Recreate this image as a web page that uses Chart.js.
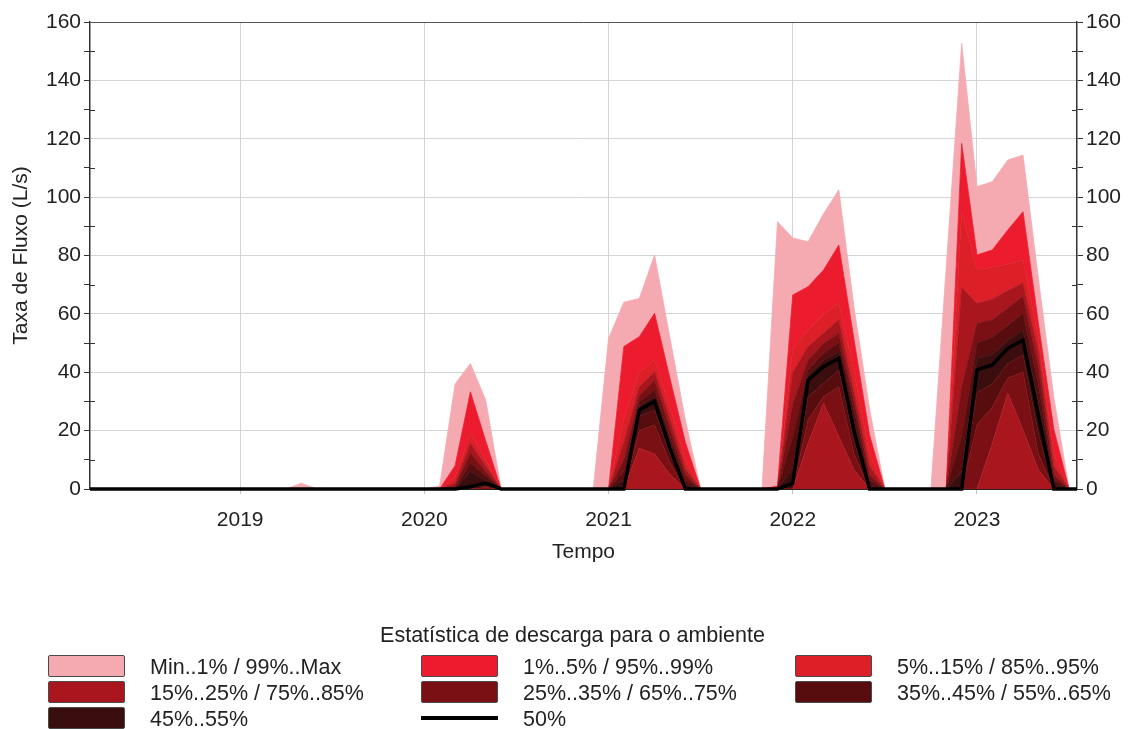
<!DOCTYPE html>
<html lang="pt">
<head>
<meta charset="utf-8">
<title>Estatística de descarga para o ambiente</title>
<script src="https://cdn.jsdelivr.net/npm/chart.js@4.4.1/dist/chart.umd.min.js"></script>
<style>
  html, body { margin:0; padding:0; background:#fff; }
  #wrap { position:relative; width:1133px; height:729px; overflow:hidden;
          font-family:'Liberation Sans', Arial, sans-serif; color:#222; }
  #chart { position:absolute; left:0; top:0; }
  .lg-title { position:absolute; left:6px; top:622px; width:1133px; text-align:center; font-size:21.5px; line-height:26px; }
  .lg-box { position:absolute; width:75px; height:20px; border:1px solid #4a4a4a; border-radius:2px; }
  .lg-line { position:absolute; width:77px; height:4px; background:#000; }
  .lg-text { position:absolute; font-size:21.5px; line-height:24px; white-space:nowrap; }
</style>
</head>
<body>
<div id="wrap">
  <canvas id="chart" width="1133" height="729"></canvas>
  <div class="lg-title">Estatística de descarga para o ambiente</div>
  <div id="legend"></div>
</div>
<script>
// ---------- DATA (decimal years, L/s) ----------
const times = [
  2018.185,
  2019.25, 2019.333, 2019.417,
  2020.0, 2020.083, 2020.167, 2020.25, 2020.333, 2020.417,
  2020.917, 2021.0, 2021.083, 2021.167, 2021.25, 2021.333, 2021.417, 2021.5,
  2021.833, 2021.917, 2022.0, 2022.083, 2022.167, 2022.25, 2022.333, 2022.417, 2022.5,
  2022.75, 2022.833, 2022.917, 2023.0, 2023.083, 2023.167, 2023.25, 2023.333, 2023.417, 2023.5,
  2023.543
];
const yearTicks = [2019, 2020, 2021, 2022, 2023];

const pMax = [0, 0, 2, 0, 0, 1, 36, 43, 30.5, 0, 0, 51.6, 64, 65.3, 80.2, 51.8, 23.6, 0,
  0, 91.6, 86, 84.7, 94.3, 102.5, 62, 27.4, 0, 0, 76, 152.7, 103.6, 105.3, 112.7, 114.4, 72.3, 31.6, 0, 0];
const p99 = [0, 0, 0, 0, 0, 0, 8, 33.3, 16.5, 0, 0, 0, 48.8, 52.2, 60.2, 38, 16, 0,
  0, 1, 66.5, 69.3, 75, 83.6, 51, 18.5, 0, 0, 0, 118.4, 80.2, 81.9, 88.7, 95, 57, 20.5, 0, 0];
const p95 = [0, 0, 0, 0, 0, 0, 4, 19, 10, 0, 0, 0, 24, 40, 44.2, 28, 10, 0,
  0, 0, 48, 54.5, 60, 63.6, 40, 12, 0, 0, 0, 95, 75, 76, 77, 78.5, 52, 12, 0, 0];
const p85 = [0, 0, 0, 0, 0, 0, 2, 15.7, 8, 0, 0, 0, 16, 35, 40.2, 24, 7, 0,
  0, 0, 40, 48.8, 53.4, 58, 33, 8, 0, 0, 0, 69, 63.6, 65, 68, 70.5, 47, 8, 0, 0];
const p75 = [0, 0, 0, 0, 0, 0, 1, 12.3, 6, 0, 0, 0, 10, 32, 37.3, 21, 5, 0,
  0, 0, 29, 44.2, 49.9, 53.3, 30, 5, 0, 0, 0, 35, 56.8, 58, 62, 66, 42, 5, 0, 0];
const p65 = [0, 0, 0, 0, 0, 0, 0, 8.9, 4.5, 0, 0, 0, 6, 30, 33.9, 18, 3, 0,
  0, 0, 18, 40.8, 46.6, 50, 27, 3, 0, 0, 0, 18, 50, 52, 56, 60.2, 36, 3, 0, 0];
const p55 = [0, 0, 0, 0, 0, 0, 0, 6, 3, 0, 0, 0, 3, 28.5, 31.6, 16, 1.5, 0,
  0, 0, 7, 39, 44.2, 47, 23, 1, 0, 0, 0, 6, 44.8, 46, 51, 54.4, 30, 1.5, 0, 0];
const p50 = [0, 0, 0, 0, 0, 0, 0, 0.8, 2, 0, 0, 0, 0, 27, 30, 14, 0, 0,
  0, 0, 2, 37.3, 41.9, 44.8, 19.8, 0, 0, 0, 0, 0, 40.8, 42.5, 48.2, 51, 25.3, 0, 0, 0];
const p45 = [0, 0, 0, 0, 0, 0, 0, 0.4, 1, 0, 0, 0, 0, 25, 27, 12, 0, 0,
  0, 0, 0, 31.6, 36.2, 40.8, 16, 0, 0, 0, 0, 0, 33, 36, 43, 46, 19, 0, 0, 0];
const p35 = [0, 0, 0, 0, 0, 0, 0, 0, 0.5, 0, 0, 0, 0, 20, 22, 9, 0, 0,
  0, 0, 0, 23.6, 31.6, 35, 12, 0, 0, 0, 0, 0, 22, 28, 38, 40, 12, 0, 0, 0];
const p25 = [0, 0, 0, 0, 0, 0, 0, 0, 0, 0, 0, 0, 0, 14, 12, 5, 0, 0,
  0, 0, 0, 15.7, 29.4, 18, 6.5, 0, 0, 0, 0, 0, 0, 15.5, 32.8, 20.2, 6.5, 0, 0, 0];

const legendLabels = [
  'Min..1% / 99%..Max', '1%..5% / 95%..99%', '5%..15% / 85%..95%',
  '15%..25% / 75%..85%', '25%..35% / 65%..75%', '35%..45% / 55%..65%',
  '45%..55%', '50%'
];

(function(){
  'use strict';

  /* ---------- colours ---------- */
  const C_PINK = '#f5aab1';
  const C_01 = '#ec1b2d';
  const C_05 = '#dd1f27';
  const C_15 = '#aa161e';
  const C_25 = '#7b1014';
  const C_35 = '#570c0e';
  const C_45 = '#3a0e0f';
  const legendColors = [C_PINK, C_01, C_05, C_15, C_25, C_35, C_45, null];

  const FONT = "'Liberation Sans', Arial, sans-serif";
  const FS = 21;
  Chart.defaults.font.family = FONT;
  Chart.defaults.color = '#222';

  const pts = arr => times.map((t, i) => ({ x: t, y: arr[i] }));

  // bands from the bottom up, each filled down to the previous one
  const bands = [
    [p25, C_15], [p35, C_25], [p45, C_35], [p55, C_45], [p65, C_35],
    [p75, C_25], [p85, C_15], [p95, C_05], [p99, C_01], [pMax, C_PINK]
  ];
  const datasets = bands.map(([arr, col], i) => ({
    data: pts(arr),
    backgroundColor: col,
    borderColor: col,
    borderWidth: 0.8,
    fill: i === 0 ? 'origin' : '-1',
    pointRadius: 0,
    tension: 0
  }));
  datasets.push({
    data: pts(p50),
    borderColor: '#000',
    borderWidth: 3.5,
    fill: false,
    pointRadius: 0,
    tension: 0,
    clip: 4,
    order: -1
  });

  // minor y ticks (every 10) cross the axis line, like the original
  const minorTicks = {
    id: 'minorTicks',
    afterDraw(chart) {
      const ctx = chart.ctx;
      ['y', 'y2'].forEach(id => {
        const s = chart.scales[id];
        const x0 = id === 'y' ? chart.chartArea.left : chart.chartArea.right;
        const dir = id === 'y' ? 1 : -1;
        ctx.save();
        ctx.strokeStyle = '#333';
        ctx.lineWidth = 1;
        s.ticks.forEach(t => {
          if (t.value % 20 === 0) return;
          const y = Math.round(s.getPixelForValue(t.value)) + 0.5;
          ctx.beginPath();
          ctx.moveTo(x0, y);
          ctx.lineTo(x0 + dir * 5, y);
          ctx.stroke();
        });
        ctx.restore();
      });
    }
  };

  const yTicks = {
    stepSize: 10, autoSkip: false, padding: 3,
    font: { size: FS }, color: '#222',
    callback: v => (v % 20 === 0 ? v : '')
  };

  new Chart(document.getElementById('chart'), {
    type: 'line',
    data: { datasets },
    options: {
      responsive: false,
      animation: false,
      devicePixelRatio: 1,
      layout: { padding: { top: 22, left: 0, right: 0, bottom: 162 } },
      plugins: { legend: { display: false }, tooltip: { enabled: false } },
      scales: {
        x: {
          type: 'linear',
          min: times[0],
          max: times[times.length - 1],
          afterBuildTicks: s => { s.ticks = yearTicks.map(v => ({ value: v })); },
          grid: { color: '#d4d4d4', tickLength: 5, tickColor: '#c4c4c4' },
          border: { color: '#222', width: 1 },
          ticks: { padding: 14, autoSkip: false, maxRotation: 0, font: { size: FS }, color: '#222',
                   callback: v => String(v) },
          title: { display: true, text: 'Tempo', font: { size: FS }, color: '#222',
                   padding: { top: 0, bottom: 2 } },
          afterFit: s => { s.height = 78; }
        },
        y: {
          position: 'left', min: 0, max: 160,
          ticks: yTicks,
          grid: {
            color: c => (c.tick && c.tick.value % 20 === 0)
              ? (c.tick.value === 160 ? '#555' : '#d4d4d4') : 'rgba(0,0,0,0)',
            tickLength: 6, tickColor: '#333'
          },
          border: { color: '#333', width: 1.5 },
          title: { display: true, text: 'Taxa de Fluxo (L/s)', font: { size: FS }, color: '#222',
                   padding: { top: 9, bottom: 0 } },
          afterFit: s => { s.width = 90; }
        },
        y2: {
          position: 'right', min: 0, max: 160,
          ticks: yTicks,
          grid: { drawOnChartArea: false, tickLength: 6, tickColor: '#333' },
          border: { color: '#333', width: 1.5 },
          afterFit: s => { s.width = 56; }
        }
      }
    },
    plugins: [minorTicks]
  });

  /* ---------- legend (3 columns) ---------- */
  const colX = [48, 421, 795];
  const rowY = [655, 681, 707];
  const legend = document.getElementById('legend');
  legendLabels.forEach((label, i) => {
    const x = colX[i % 3], y = rowY[Math.floor(i / 3)];
    const mark = document.createElement('div');
    if (legendColors[i]) {
      mark.className = 'lg-box';
      mark.style.left = x + 'px';
      mark.style.top = y + 'px';
      mark.style.background = legendColors[i];
    } else {
      mark.className = 'lg-line';
      mark.style.left = x + 'px';
      mark.style.top = (y + 9) + 'px';
    }
    legend.appendChild(mark);
    const txt = document.createElement('div');
    txt.className = 'lg-text';
    txt.style.left = (x + 102) + 'px';
    txt.style.top = y + 'px';
    txt.textContent = label;
    legend.appendChild(txt);
  });
})();
</script>
</body>
</html>
